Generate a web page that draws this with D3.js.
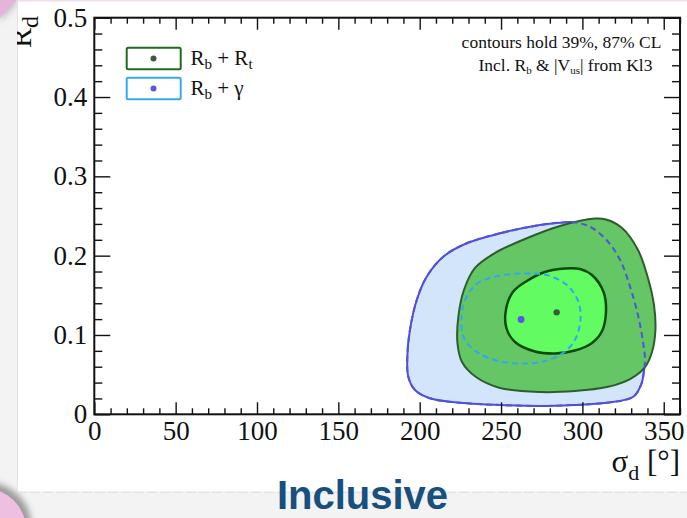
<!DOCTYPE html>
<html>
<head>
<meta charset="utf-8">
<script src="https://cdn.jsdelivr.net/npm/d3@7"></script>
<style>
  html, body { margin: 0; padding: 0; background: #f4f3f3; }
  svg { display: block; }
</style>
</head>
<body>
<svg id="chart" width="687" height="518"></svg>
<script>
// Axis ticks
const xTicks = [0, 50, 100, 150, 200, 250, 300, 350];
const xTickLabels = ["0", "50", "100", "150", "200", "250", "300", "350"];
const yTicks = [0, 0.1, 0.2, 0.3, 0.4, 0.5];
const yTickLabels = ["0", "0.1", "0.2", "0.3", "0.4", "0.5"];

// Contours in the (sigma_d [deg], R_d) plane
const rbGamma87 = [
  [273.9, 0.2387], [249.4, 0.2282], [228.9, 0.2156], [214.5, 0.1987], [204.3, 0.1735],
  [198.2, 0.1441], [194.0, 0.1063], [192.4, 0.0726], [193.0, 0.0474], [197.1, 0.0306],
  [206.3, 0.0202], [228.9, 0.0139], [249.4, 0.0117], [273.9, 0.0105], [294.4, 0.0117],
  [314.9, 0.0146], [331.3, 0.0222], [336.4, 0.0391], [337.9, 0.0558], [338.5, 0.0685],
  [337.4, 0.0895], [334.4, 0.1230], [329.3, 0.1609], [323.2, 0.1945], [314.9, 0.2197],
  [304.7, 0.2365], [294.4, 0.2421], [286.2, 0.2416]
];
const rbGamma39 = [
  [264.7, 0.1775], [249.4, 0.1750], [235.8, 0.1655], [228.5, 0.1466], [225.7, 0.1214],
  [227.2, 0.0962], [235.2, 0.0786], [248.2, 0.0672], [264.7, 0.0640], [277.0, 0.0672],
  [288.1, 0.0773], [295.4, 0.0937], [298.8, 0.1189], [297.6, 0.1416], [291.1, 0.1618],
  [281.9, 0.1731], [273.9, 0.1769]
];
const rbRt87 = [
  [307.7, 0.2468], [286.2, 0.2374], [264.7, 0.2210], [246.3, 0.2034], [234.0, 0.1845],
  [227.2, 0.1567], [223.8, 0.1239], [223.2, 0.0899], [226.0, 0.0659], [234.6, 0.0470],
  [249.4, 0.0332], [273.9, 0.0281], [295.4, 0.0294], [315.1, 0.0344], [329.3, 0.0445],
  [338.5, 0.0596], [342.8, 0.0785], [344.9, 0.1063], [344.0, 0.1378], [340.3, 0.1718],
  [334.2, 0.2071], [324.4, 0.2349], [314.5, 0.2456]
];
const rbRt39 = [
  [289.3, 0.1838], [277.0, 0.1794], [265.9, 0.1681], [257.3, 0.1543], [253.0, 0.1316],
  [253.3, 0.1088], [258.6, 0.0912], [270.9, 0.0792], [283.2, 0.0767], [295.4, 0.0804],
  [305.9, 0.0899], [312.1, 0.1050], [314.5, 0.1290], [313.0, 0.1542], [305.9, 0.1756],
  [298.5, 0.1832]
];

// Best-fit points
const bestRbRt = [284.2, 0.1285];
const bestRbGamma = [262.3, 0.1195];

const W = 687, H = 518;
const svg = d3.select("#chart");
const serif = "'Liberation Serif', 'Times New Roman', serif";

// ---- slide backdrop ----
svg.append("rect").attr("width", W).attr("height", H).attr("fill", "#f4f3f3");
const defs = svg.append("defs");
defs.append("filter").attr("id", "soft").attr("x", "-50%").attr("y", "-50%")
  .attr("width", "200%").attr("height", "200%")
  .append("feGaussianBlur").attr("stdDeviation", 3);
defs.append("clipPath").attr("id", "panelClip")
  .append("rect").attr("x", 17).attr("y", 0).attr("width", W - 17).attr("height", 492);

// pink discs peeking in at the corners
svg.append("circle").attr("cx", -14).attr("cy", 528).attr("r", 46)
  .attr("fill", "#555").attr("opacity", 0.55).attr("filter", "url(#soft)");
svg.append("circle").attr("cx", -16).attr("cy", 530).attr("r", 42).attr("fill", "#efbfe2");
svg.append("path").attr("d", "M0,0 L20,0 L0,22 Z")
  .attr("fill", "#777").attr("opacity", 0.4).attr("filter", "url(#soft)");
svg.append("path").attr("d", "M0,0 L17,0 L0,18 Z").attr("fill", "#e6b3d9");

// white panel
svg.append("rect").attr("x", 17).attr("y", 0).attr("width", W - 17).attr("height", 491)
  .attr("fill", "#ffffff");
svg.append("line").attr("x1", 17).attr("x2", W).attr("y1", 0.8).attr("y2", 0.8)
  .attr("stroke", "#f0dcec").attr("stroke-width", 1.6);
svg.append("line").attr("x1", 17.5).attr("x2", 17.5).attr("y1", 0).attr("y2", 491)
  .attr("stroke", "#eadfe6").attr("stroke-width", 1);
svg.append("line").attr("x1", 17).attr("x2", W).attr("y1", 492.5).attr("y2", 492.5)
  .attr("stroke", "#e8dcf0").attr("stroke-width", 1.2).attr("stroke-dasharray", "10 3");

// ---- scales ----
const x = d3.scaleLinear().domain([0, 360]).range([94.3, 680]);
const y = d3.scaleLinear().domain([0, 0.5]).range([414.3, 17.7]);

const plot = svg.append("g").attr("clip-path", "url(#panelClip)");

// ---- contours ----
const contour = d3.line()
  .x(d => x(d[0])).y(d => y(d[1]))
  .curve(d3.curveCatmullRomClosed.alpha(0.5));

plot.append("path").attr("d", contour(rbGamma87))
  .attr("fill", "#d3e5fb").attr("stroke", "#4f4fd6").attr("stroke-width", 2);
plot.append("path").attr("d", contour(rbRt87))
  .attr("fill", "#64c664").attr("stroke", "#2f5c2f").attr("stroke-width", 2);
plot.append("path").attr("d", contour(rbRt39))
  .attr("fill", "#62fc62").attr("stroke", "#0c4a0c").attr("stroke-width", 2.5);
plot.append("path").attr("d", contour(rbGamma87))
  .attr("fill", "none").attr("stroke", "#5252dc").attr("stroke-width", 2)
  .attr("stroke-dasharray", "6 4");
plot.append("path").attr("d", contour(rbGamma39))
  .attr("fill", "none").attr("stroke", "#2ea9ef").attr("stroke-width", 2)
  .attr("stroke-dasharray", "6 4");

plot.append("circle").attr("cx", x(bestRbRt[0])).attr("cy", y(bestRbRt[1]))
  .attr("r", 3.2).attr("fill", "#3b5a3d");
plot.append("circle").attr("cx", x(bestRbGamma[0])).attr("cy", y(bestRbGamma[1]))
  .attr("r", 3.4).attr("fill", "#5a55e6");

// ---- axes ----
const minorX = d3.range(0, 37).map(i => i * 10).filter(v => v % 50 !== 0);
const minorY = d3.range(0, 26).filter(i => i % 5 !== 0).map(i => i * 0.02);

function styleAxis(g) {
  g.select(".domain").remove();
  g.selectAll(".tick line").attr("stroke", "#111").attr("stroke-width", 1.4);
  g.selectAll(".tick text").attr("fill", "#111").attr("font-family", serif)
    .attr("font-size", 27);
}

const axes = plot.append("g");
// bottom
axes.append("g").attr("transform", `translate(0,${y(0)})`)
  .call(d3.axisBottom(x).tickValues(minorX).tickSize(-6).tickFormat(""))
  .call(styleAxis);
axes.append("g").attr("transform", `translate(0,${y(0)})`)
  .call(d3.axisBottom(x).tickValues(xTicks).tickSize(-12).tickPadding(7)
    .tickFormat((d, i) => xTickLabels[i]))
  .call(styleAxis);
// top
axes.append("g").attr("transform", `translate(0,${y(0.5)})`)
  .call(d3.axisTop(x).tickValues(minorX).tickSize(-6).tickFormat(""))
  .call(styleAxis);
axes.append("g").attr("transform", `translate(0,${y(0.5)})`)
  .call(d3.axisTop(x).tickValues(xTicks).tickSize(-12).tickFormat(""))
  .call(styleAxis);
// left
axes.append("g").attr("transform", `translate(${x(0)},0)`)
  .call(d3.axisLeft(y).tickValues(minorY).tickSize(-8).tickFormat(""))
  .call(styleAxis);
axes.append("g").attr("transform", `translate(${x(0)},0)`)
  .call(d3.axisLeft(y).tickValues(yTicks).tickSize(-16).tickPadding(7)
    .tickFormat((d, i) => yTickLabels[i]))
  .call(styleAxis);
// right
axes.append("g").attr("transform", `translate(${x(360)},0)`)
  .call(d3.axisRight(y).tickValues(minorY).tickSize(-8).tickFormat(""))
  .call(styleAxis);
axes.append("g").attr("transform", `translate(${x(360)},0)`)
  .call(d3.axisRight(y).tickValues(yTicks).tickSize(-16).tickFormat(""))
  .call(styleAxis);

// frame
plot.append("rect")
  .attr("x", x(0)).attr("y", y(0.5))
  .attr("width", x(360) - x(0)).attr("height", y(0) - y(0.5))
  .attr("fill", "none").attr("stroke", "#111").attr("stroke-width", 2);

// ---- axis titles ----
const xTitle = plot.append("text")
  .attr("x", 680).attr("y", 472).attr("text-anchor", "end")
  .attr("font-family", serif).attr("font-size", 31).attr("fill", "#111");
xTitle.append("tspan").text("σ");
xTitle.append("tspan").attr("font-size", 22).attr("dy", 8).text("d");
xTitle.append("tspan").attr("dy", -8).text(" [°]");

// y title sits partly under the panel edge, so its top is clipped
const yTitle = plot.append("text")
  .attr("transform", "translate(31,48) rotate(-90)")
  .attr("font-family", serif).attr("font-size", 30).attr("fill", "#111");
yTitle.append("tspan").text("R");
yTitle.append("tspan").attr("font-size", 24).attr("dy", 7).text("d");

// ---- legend ----
const legendItems = [
  { main: "R", sub: "b", rest: " + R", sub2: "t", stroke: "#1f6a1f", dot: "#3b5a3d" },
  { main: "R", sub: "b", rest: " +  γ", sub2: "", stroke: "#33aaee", dot: "#5a55e6" }
];
const legend = plot.append("g");
legendItems.forEach((d, i) => {
  const top = 47.7 + i * 30;
  legend.append("rect").attr("x", 126.7).attr("y", top).attr("width", 54).attr("height", 21.6)
    .attr("rx", 1.5).attr("fill", "#fff").attr("stroke", d.stroke).attr("stroke-width", 2);
  legend.append("circle").attr("cx", 153.5).attr("cy", top + 10.8).attr("r", 3)
    .attr("fill", d.dot);
  const t = legend.append("text").attr("x", 190.5).attr("y", top + 17.5)
    .attr("font-family", serif).attr("font-size", 21).attr("fill", "#111");
  t.append("tspan").text(d.main);
  t.append("tspan").attr("font-size", 15).attr("dy", 4).text(d.sub);
  t.append("tspan").attr("dy", -4).text(d.rest);
  if (d.sub2) t.append("tspan").attr("font-size", 15).attr("dy", 4).text(d.sub2);
});

// ---- annotation ----
const note = plot.append("g").attr("font-family", serif).attr("fill", "#111")
  .attr("font-size", 17.5);
note.append("text").attr("x", 561.5).attr("y", 47.5).attr("text-anchor", "middle")
  .text("contours hold 39%, 87% CL");
const n2 = note.append("text").attr("x", 565.5).attr("y", 70.5).attr("text-anchor", "middle");
n2.append("tspan").text("Incl. R");
n2.append("tspan").attr("font-size", 11).attr("dy", 3).text("b");
n2.append("tspan").attr("dy", -3).text(" & |V");
n2.append("tspan").attr("font-size", 11).attr("dy", 3).text("us");
n2.append("tspan").attr("dy", -3).text("| from Kl3");

// ---- slide caption ----
svg.append("text").attr("x", 362.5).attr("y", 509).attr("text-anchor", "middle")
  .attr("font-family", "'Liberation Sans', Arial, sans-serif").attr("font-weight", "bold")
  .attr("font-size", 40).attr("fill", "#17507f").text("Inclusive");
</script>
</body>
</html>
